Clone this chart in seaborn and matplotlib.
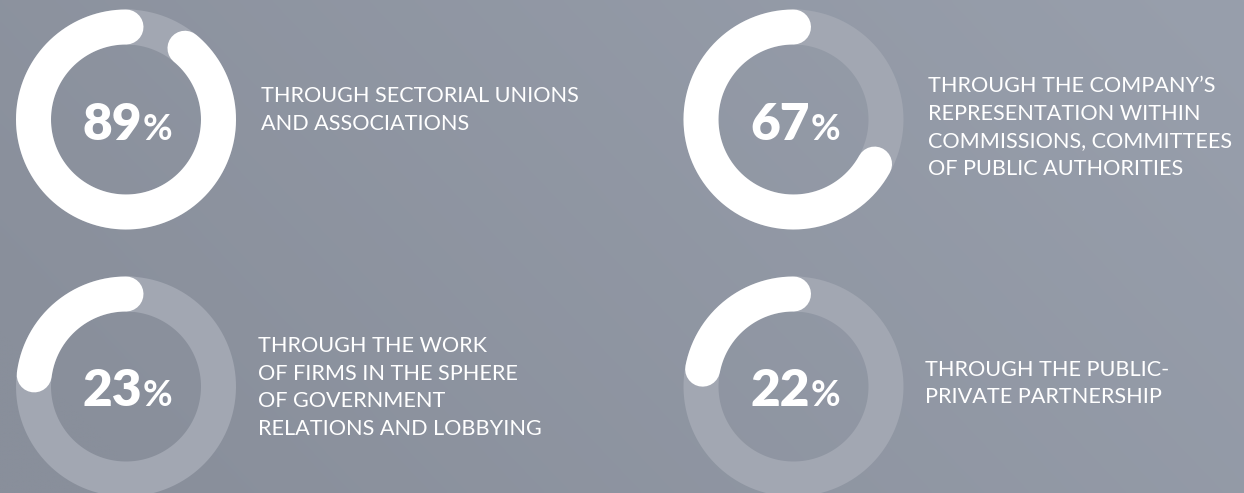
import numpy as np
import matplotlib
matplotlib.use("Agg")
import matplotlib.pyplot as plt
import seaborn as sns
import pandas as pd

# ---- data ----
values = [89, 67, 23, 22]
labels = [
    ["THROUGH SECTORIAL UNIONS", "AND ASSOCIATIONS"],
    ["THROUGH THE COMPANY\u2019S", "REPRESENTATION WITHIN", "COMMISSIONS, COMMITTEES", "OF PUBLIC AUTHORITIES"],
    ["THROUGH THE WORK", "OF FIRMS IN THE SPHERE", "OF GOVERNMENT", "RELATIONS AND LOBBYING"],
    ["THROUGH THE PUBLIC-", "PRIVATE PARTNERSHIP"],
]

# ---- layout ----
W, H = 1244, 493
centers = [(126, 119.5), (793.5, 119.5), (126, 386.5), (793.5, 386.5)]
label_x = [261, 928, 258, 925]
label_first_baseline = [102, 92, 352, 375.5]
line_step = 27.7
R = 92.5
LW = 35 * 72 / 100
TRACK = "#a2a7b2"

sns.set_theme(style="white")
plt.rcParams['font.family'] = ['Lato', 'DejaVu Sans']

fig = plt.figure(figsize=(W / 100, H / 100), dpi=100)
ax = fig.add_axes([0, 0, 1, 1])

# background gradient
gx = np.linspace(0, 1, 400)
gy = np.linspace(0, 1, 160)
GX, GY = np.meshgrid(gx, gy)
t = np.clip(0.8 * GX + 0.3 * (1 - GY) - 0.1, 0, 1)
c0 = np.array([0x89, 0x8f, 0x9b]) / 255
c1 = np.array([0x98, 0x9f, 0xac]) / 255
img = c0 + (c1 - c0) * t[..., None]
ax.imshow(img, extent=[0, W, H, 0], aspect='auto', zorder=0, interpolation='bilinear')

for v, (cx, cy) in zip(values, centers):
    th = np.linspace(0, 2 * np.pi + 0.1, 800)
    df_track = pd.DataFrame({'x': cx + R * np.sin(th), 'y': cy - R * np.cos(th)})
    sns.lineplot(data=df_track, x='x', y='y', sort=False, estimator=None,
                 color=TRACK, linewidth=LW, ax=ax, solid_capstyle='butt', zorder=2)
    th2 = np.linspace(0, 2 * np.pi * v / 100, 500)
    df_arc = pd.DataFrame({'x': cx - R * np.sin(th2), 'y': cy - R * np.cos(th2)})
    sns.lineplot(data=df_arc, x='x', y='y', sort=False, estimator=None,
                 color='white', linewidth=LW, ax=ax, solid_capstyle='round', zorder=3)
    ax.text(cx + 16, cy + 20, f"{v}", ha='right', va='baseline', fontsize=37,
            fontweight='heavy', color='white', zorder=4)
    ax.text(cx + 17, cy + 20, "%", ha='left', va='baseline', fontsize=26,
            fontweight='bold', color='white', zorder=4)

for lines, lx, ly in zip(labels, label_x, label_first_baseline):
    for i, line in enumerate(lines):
        ax.text(lx, ly + i * line_step, line, ha='left', va='baseline', fontsize=15.6,
                color='white', zorder=4)

ax.set_xlim(0, W)
ax.set_ylim(H, 0)
ax.axis('off')
fig.savefig("out.png", dpi=100, facecolor="#8a909c")
